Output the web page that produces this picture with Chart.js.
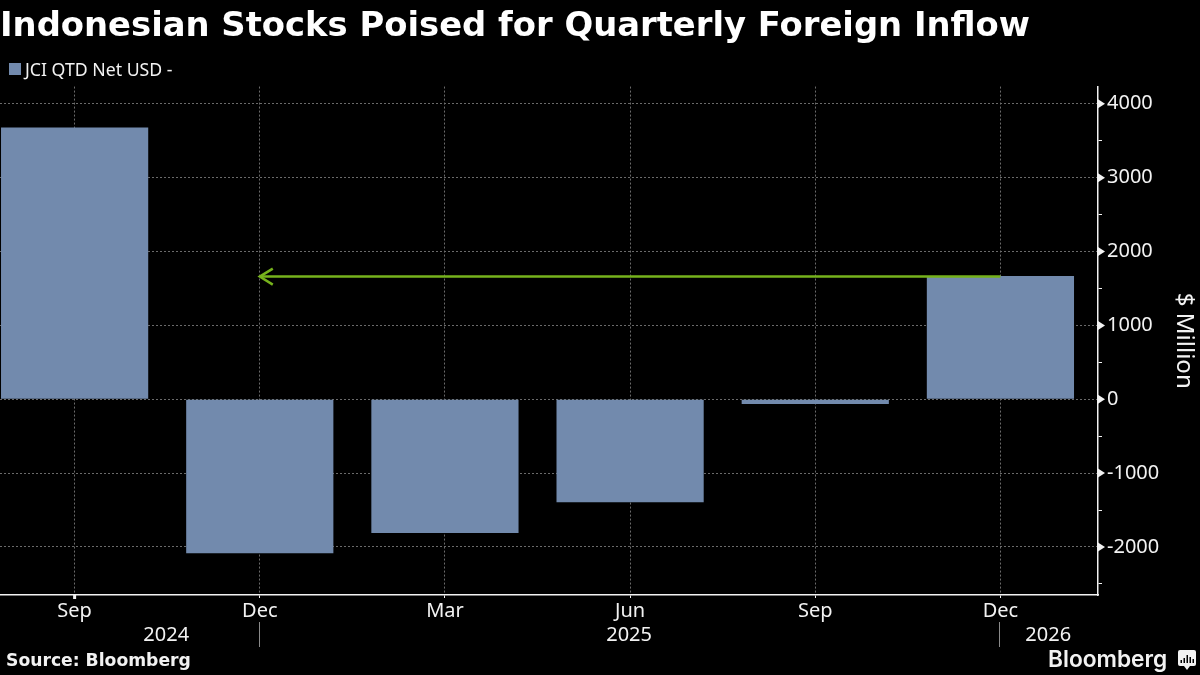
<!DOCTYPE html>
<html>
<head>
<meta charset="utf-8">
<title>Indonesian Stocks Poised for Quarterly Foreign Inflow</title>
<script src="https://cdn.jsdelivr.net/npm/chart.js@4"></script>
<style>
  html, body { margin: 0; padding: 0; background: #000; }
  #wrap { position: relative; width: 1200px; height: 675px; overflow: hidden; }
</style>
</head>
<body>
<div id="wrap"><canvas id="chart" width="1200" height="675"></canvas></div>
<script>
// Data
const chartTitle = 'Indonesian Stocks Poised for Quarterly Foreign Inflow';
const seriesName = 'JCI QTD Net USD -';
const quarters = ['Sep', 'Dec', 'Mar', 'Jun', 'Sep', 'Dec'];
const netFlows = [3680, -2085, -1810, -1395, -65, 1670];
const yTicks = [-2500, -2000, -1500, -1000, -500, 0, 500, 1000, 1500, 2000, 2500, 3000, 3500, 4000];
const years = ['2024', '2025', '2026'];
const yearBreaks = [1, 5];          // quarter index where a new year starts
const arrowFrom = 5;
const arrowTo = 1;
const arrowLevel = 1660;
const yLabel = '$ Million';
const sourceText = 'Source: Bloomberg';
const logoText = 'Bloomberg';
const logoBars = [3, 5, 8, 6, 4];

const BAR = '#728aad';
const GREEN = '#76b21c';
const WHITE = '#f2f2f2';
const GRID = '#6a6a6a';
const FONT = '"Noto Sans", sans-serif';
const TITLE_FONT = '"DejaVu Sans", sans-serif';

// legend, years row, separators, axis markers, arrow head and footer
const extras = {
    id: 'extras',
    afterDatasetsDraw(chart) {
        const { ctx, scales: { x, y } } = chart;

        // arrow head
        const ax = x.getPixelForValue(arrowTo);
        const ay = y.getPixelForValue(arrowLevel);
        ctx.save();
        ctx.strokeStyle = GREEN;
        ctx.lineWidth = 2.5;
        ctx.beginPath();
        ctx.moveTo(ax + 13, ay - 8);
        ctx.lineTo(ax, ay);
        ctx.lineTo(ax + 13, ay + 8);
        ctx.stroke();
        ctx.restore();
    },
    afterDraw(chart) {
        const { ctx, scales: { x, y }, chartArea } = chart;
        ctx.save();

        // legend
        ctx.fillStyle = BAR;
        ctx.fillRect(9, 63, 12, 12);
        ctx.fillStyle = WHITE;
        ctx.font = '17.7px ' + FONT;
        ctx.textAlign = 'left';
        ctx.textBaseline = 'middle';
        ctx.fillText(seriesName, 25, 71);

        // triangles on the thousands
        y.ticks.forEach(t => {
            if (t.value % 1000 !== 0) return;
            const py = y.getPixelForValue(t.value);
            ctx.beginPath();
            ctx.moveTo(chartArea.right, py - 4.5);
            ctx.lineTo(chartArea.right + 7, py);
            ctx.lineTo(chartArea.right, py + 4.5);
            ctx.closePath();
            ctx.fill();
        });

        // first quarter has a heavier tick
        ctx.fillRect(x.getPixelForValue(0) - 1.5, chartArea.bottom - 1, 3, 5);

        // year separators
        ctx.strokeStyle = '#8a8a8a';
        ctx.lineWidth = 1;
        yearBreaks.forEach(b => {
            const px = Math.round(x.getPixelForValue(b)) - 0.5;
            ctx.beginPath();
            ctx.moveTo(px, 622);
            ctx.lineTo(px, 647);
            ctx.stroke();
        });

        // year labels centred in their span
        ctx.font = '20px ' + FONT;
        ctx.textAlign = 'center';
        years.forEach((label, i) => {
            const from = i === 0 ? 0 : yearBreaks[i - 1];
            const to = i < yearBreaks.length ? yearBreaks[i] : x.max;
            ctx.fillText(label, (x.getPixelForValue(from) + x.getPixelForValue(to)) / 2 - 1, 635);
        });

        // source
        ctx.textAlign = 'left';
        ctx.font = 'bold 17.2px ' + TITLE_FONT;
        ctx.fillText(sourceText, 6, 662);

        // logo
        ctx.font = '600 22.7px Inter, sans-serif';
        ctx.fillText(logoText, 1048, 660);
        ctx.beginPath();
        ctx.roundRect(1178, 650, 18, 16, 2);
        ctx.fill();
        ctx.beginPath();
        ctx.moveTo(1184, 666);
        ctx.lineTo(1190, 666);
        ctx.lineTo(1187, 670);
        ctx.closePath();
        ctx.fill();
        ctx.fillStyle = '#000';
        logoBars.forEach((h, i) => ctx.fillRect(1180.5 + i * 3, 663 - h, 1.5, h));

        ctx.restore();
    }
};

new Chart(document.getElementById('chart'), {
    type: 'bar',
    data: {
        datasets: [
            {
                label: seriesName,
                data: quarters.map((q, i) => ({ x: i, y: netFlows[i] })),
                backgroundColor: BAR,
                barPercentage: 0.795,
                categoryPercentage: 1,
                order: 2
            },
            {
                type: 'line',
                label: 'arrow',
                data: [{ x: arrowFrom, y: arrowLevel }, { x: arrowTo, y: arrowLevel }],
                borderColor: GREEN,
                borderWidth: 2.5,
                pointRadius: 0,
                order: 1
            }
        ]
    },
    options: {
        responsive: false,
        animation: false,
        devicePixelRatio: 1,
        layout: { padding: 0 },
        plugins: {
            tooltip: { enabled: false },
            legend: { display: false },
            title: {
                display: true,
                text: chartTitle,
                align: 'start',
                color: '#fff',
                font: { family: TITLE_FONT, size: 33.8, weight: 'bold' },
                padding: { top: 7, bottom: 39 }
            }
        },
        scales: {
            x: {
                type: 'linear',
                offset: false,
                min: -0.403,
                max: 5.527,
                afterFit: s => { s.height = 80; },
                border: { color: WHITE, width: 1.5, dash: [2, 2] },
                grid: { color: GRID, offset: false, tickColor: WHITE, tickLength: 3 },
                ticks: {
                    stepSize: 1,
                    includeBounds: false,
                    autoSkip: false,
                    maxRotation: 0,
                    color: WHITE,
                    padding: 1,
                    font: { family: FONT, size: 20 },
                    callback: v => quarters[v]
                }
            },
            y: {
                position: 'right',
                min: -2650,
                max: 4233,
                afterFit: s => { s.width = 102; },
                afterBuildTicks: s => { s.ticks = yTicks.map(v => ({ value: v })); },
                border: { color: WHITE, width: 1.5, dash: [2, 2] },
                grid: {
                    color: c => c.tick && c.tick.value % 1000 === 0 ? GRID : 'transparent',
                    tickColor: WHITE,
                    tickLength: 4
                },
                title: {
                    display: true,
                    text: yLabel,
                    color: WHITE,
                    font: { family: FONT, size: 24 },
                    padding: 2
                },
                ticks: {
                    autoSkip: false,
                    color: WHITE,
                    padding: 5,
                    font: { family: FONT, size: 20 },
                    callback: v => v % 1000 === 0 ? String(v) : ''
                }
            }
        }
    },
    plugins: [extras]
});
</script>
</body>
</html>
